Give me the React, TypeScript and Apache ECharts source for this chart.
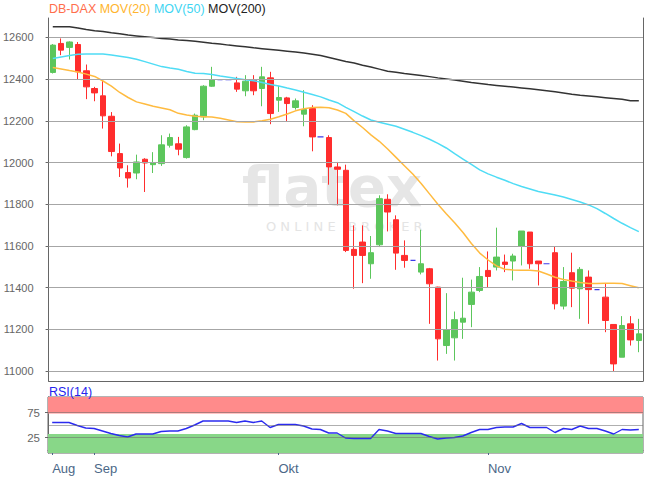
import React, { useEffect, useRef } from "react";
import * as echarts from "echarts";

const FONT = "'Liberation Sans', Arial, Helvetica, sans-serif";

// x-axis month ticks (index of first trading day shown in that month)
const monthTickIndex = [0, 5, 27, 52];
const monthTickLabels = ["Aug", "Sep", "Okt", "Nov"];

// y-axis ticks
const priceTicks = [11000, 11200, 11400, 11600, 11800, 12000, 12200, 12400, 12600];
const rsiTicks = [25, 75];
const rsiGuides = [25, 50, 75];

// DB-DAX daily candles
const open = [
  12432, 12571, 12552, 12566, 12440, 12355, 12320, 12222, 12043, 11952,
  11950, 12016, 11990, 11995, 12083, 12090, 12024, 12158, 12219, 12366,
  12398, 12398, 12382, 12344, 12395, 12355, 12406, 12299, 12310, 12264,
  12232, 12259, 12123, 12120, 11979, 11963, 11584, 11619, 11515, 11606,
  11824, 11726, 11555, 11531, 11475, 11491, 11403, 11123, 11160, 11235,
  11320, 11387, 11483, 11499, 11523, 11528, 11598, 11667, 11528, 11515,
  11568, 11312, 11472, 11395, 11451, 11391, 11355, 11224, 11067, 11227,
  11147,
];
const close = [
  12563, 12539, 12578, 12435, 12363, 12334, 12224, 12053, 11974, 11926,
  12003, 11998, 11998, 12085, 12120, 12064, 12171, 12227, 12366, 12398,
  12398, 12398, 12352, 12390, 12344, 12411, 12235, 12312, 12283, 12296,
  12254, 12123, 12123, 11979, 11968, 11579, 11555, 11555, 11568, 11827,
  11763, 11566, 11531, 11531, 11515, 11419, 11155, 11198, 11247, 11254,
  11379, 11454, 11454, 11547, 11512, 11552, 11672, 11515, 11515, 11515,
  11323, 11430, 11398, 11488, 11391, 11391, 11243, 11035, 11219, 11150,
  11179,
];
const low = [
  12427, 12515, 12494, 12398, 12304, 12294, 12163, 12030, 11931, 11880,
  11920, 11859, 11950, 11984, 12072, 12035, 12019, 12155, 12203, 12363,
  12398, 12398, 12339, 12318, 12323, 12270, 12184, 12243, 12198, 12254,
  12174, 12054, 12123, 11894, 11795, 11571, 11395, 11422, 11443, 11595,
  11670, 11486, 11496, 11531, 11464, 11227, 11051, 11083, 11051, 11155,
  11211, 11379, 11403, 11483, 11475, 11435, 11507, 11491, 11411, 11515,
  11296, 11296, 11307, 11251, 11227, 11391, 11187, 11000, 11067, 11123,
  11091,
];
const high = [
  12568, 12595, 12581, 12578, 12470, 12363, 12398, 12242, 12091, 11987,
  12038, 12021, 12050, 12131, 12139, 12123, 12179, 12235, 12371, 12459,
  12398, 12398, 12411, 12419, 12419, 12459, 12435, 12368, 12315, 12307,
  12347, 12275, 12123, 12131, 12003, 11990, 11699, 11699, 11648, 11843,
  11848, 11747, 11627, 11531, 11678, 11495, 11405, 11374, 11286, 11448,
  11439, 11499, 11574, 11688, 11559, 11563, 11672, 11667, 11528, 11515,
  11600, 11499, 11568, 11499, 11483, 11391, 11419, 11224, 11264, 11264,
  11251,
];

// moving averages
const mov20 = [
  12456, 12449, 12441, 12434, 12424, 12413, 12391, 12366, 12336, 12312,
  12291, 12281, 12270, 12262, 12253, 12236, 12228, 12222, 12220, 12218,
  12212, 12204, 12196, 12195, 12195, 12200, 12208, 12220, 12233, 12248,
  12258, 12264, 12265, 12263, 12252, 12236, 12200, 12168, 12133, 12102,
  12065, 12025, 11985, 11945, 11900, 11850, 11800, 11755, 11712, 11665,
  11612, 11566, 11533, 11505, 11489, 11485, 11484, 11484, 11480, 11466,
  11450, 11440, 11432, 11425, 11420, 11420, 11422, 11422, 11420, 11410,
  11400,
];
const mov50 = [
  12499, 12506, 12513, 12519, 12520, 12520, 12520, 12516, 12510, 12504,
  12495, 12484, 12472, 12460, 12453, 12447, 12437, 12428, 12427, 12422,
  12415, 12409, 12403, 12397, 12392, 12384, 12374, 12367, 12357, 12348,
  12337, 12326, 12315, 12300, 12287, 12265, 12244, 12223, 12204, 12193,
  12184, 12174, 12160, 12145, 12129, 12112, 12092, 12070, 12043, 12017,
  11991, 11965, 11946, 11930, 11915, 11899, 11885, 11873, 11861, 11853,
  11845, 11835, 11823, 11811, 11797, 11779, 11756, 11732, 11709, 11688,
  11669,
];
const mov200 = [
  12651, 12651, 12651, 12645, 12638, 12632, 12628, 12622, 12617, 12611,
  12607, 12603, 12599, 12595, 12592, 12588, 12585, 12581, 12577, 12572,
  12568, 12563, 12559, 12555, 12550, 12546, 12542, 12538, 12534, 12530,
  12525, 12519, 12513, 12504, 12494, 12484, 12477, 12467, 12458, 12448,
  12438, 12433, 12427, 12422, 12417, 12412, 12406, 12401, 12396, 12390,
  12384, 12379, 12374, 12370, 12366, 12362, 12358, 12354, 12349, 12344,
  12339, 12334, 12328, 12323, 12319, 12315, 12311, 12307, 12303, 12296,
  12296,
];

// RSI(14)
const rsi14 = [
  55, 55, 55, 49, 44, 43, 38, 33, 29, 26,
  32, 32, 32, 37, 38, 38, 43, 50, 58, 58,
  58, 58, 55, 58, 55, 58, 45, 51, 51, 51,
  48, 42, 41, 34, 34, 24, 23, 23, 23, 41,
  38, 33, 33, 33, 33, 27, 22, 24, 25, 28,
  35, 41, 41, 45, 46, 46, 53, 45, 45, 45,
  35, 43, 41, 48, 43, 43, 38, 32, 41, 40,
  41,
];

const tradingDays = open.map((_, i) => String(i + 1));

const UP = "#5cc65c";
const DOWN = "#ff2d2d";
const FLAT = "#3b3bea";
const AXIS = "#666666";
const XLAB = "#4b6787";

function buildOption() {
  const candleData = tradingDays.map((_, i) => {
    const v = [open[i], close[i], low[i], high[i]];
    const flat = open[i] === close[i] && low[i] === high[i];
    if (flat) {
      return {
        value: v,
        itemStyle: {
          color: FLAT,
          color0: FLAT,
          borderColor: FLAT,
          borderColor0: FLAT,
          borderColorDoji: FLAT,
          borderWidth: 1.2,
        },
      };
    }
    return v;
  });

  const isMonthTick = (idx: number) => monthTickIndex.indexOf(idx) >= 0;

  return {
    animation: false,
    backgroundColor: "#ffffff",
    textStyle: { fontFamily: FONT },
    grid: [
      { left: 48, right: 2, top: 18, bottom: 97 },
      {
        left: 48,
        right: 2,
        top: 397,
        height: 56,
        show: true,
        borderColor: AXIS,
        borderWidth: 1,
        backgroundColor: "transparent",
      },
    ],
    xAxis: [
      {
        type: "category",
        gridIndex: 0,
        data: tradingDays,
        boundaryGap: true,
        axisLine: { show: true, lineStyle: { color: AXIS } },
        axisTick: { show: false },
        axisLabel: { show: false },
        splitLine: { show: false },
      },
      {
        type: "category",
        gridIndex: 1,
        data: tradingDays,
        boundaryGap: true,
        axisLine: { show: true, lineStyle: { color: AXIS } },
        axisTick: {
          show: true,
          alignWithLabel: true,
          length: 5,
          interval: (idx: number) => isMonthTick(idx),
          lineStyle: { color: XLAB },
        },
        axisLabel: {
          show: true,
          interval: (idx: number) => isMonthTick(idx),
          formatter: (_v: string, idx: number) => {
            const k = monthTickIndex.indexOf(idx);
            return k >= 0 ? monthTickLabels[k] : "";
          },
          align: "left",
          color: XLAB,
          fontSize: 13,
          margin: 9,
          fontFamily: FONT,
        },
        splitLine: { show: false },
      },
    ],
    yAxis: [
      {
        type: "value",
        gridIndex: 0,
        min: 10953,
        max: 12693,
        position: "left",
        axisLine: { show: true, lineStyle: { color: AXIS } },
        axisTick: {
          show: true,
          length: 3,
          customValues: priceTicks,
          lineStyle: { color: AXIS },
        },
        axisLabel: {
          show: true,
          customValues: priceTicks,
          formatter: (v: number) => String(v),
          color: "#666",
          fontSize: 11,
          margin: 15,
          fontFamily: FONT,
        },
        splitLine: { show: false },
      },
      {
        type: "value",
        gridIndex: 0,
        min: 10953,
        max: 12693,
        position: "right",
        axisLine: { show: true, lineStyle: { color: AXIS } },
        axisTick: { show: false },
        axisLabel: { show: false },
        splitLine: { show: false },
      },
      {
        type: "value",
        gridIndex: 1,
        min: -6,
        max: 106,
        axisLine: { show: true, lineStyle: { color: AXIS } },
        axisTick: {
          show: true,
          length: 3,
          customValues: rsiTicks,
          lineStyle: { color: AXIS },
        },
        axisLabel: {
          show: true,
          customValues: rsiTicks,
          formatter: (v: number) => String(v),
          color: "#666",
          fontSize: 11.5,
          margin: 8,
          fontFamily: FONT,
        },
        splitLine: { show: false },
      },
    ],
    graphic: [
      {
        type: "text",
        x: 242,
        y: 186,
        z: 0,
        silent: true,
        style: {
          text: "flatex",
          fill: "#e6e6e6",
          font: "bold 56px 'DejaVu Sans', sans-serif",
          verticalAlign: "middle",
        },
      },
      {
        type: "text",
        x: 266,
        y: 226,
        z: 0,
        silent: true,
        style: {
          text: "O N L I N E   B R O K E R",
          fill: "#e4e4e4",
          font: "13px 'DejaVu Sans', sans-serif",
          verticalAlign: "middle",
        },
      },
      {
        type: "text",
        x: 49,
        y: 8.5,
        z: 10,
        style: {
          text: "{a|DB-DAX} {b|MOV(20)} {c|MOV(50)} {d|MOV(200)}",
          font: `12.5px ${FONT}`,
          verticalAlign: "middle",
          rich: {
            a: { fill: "#ff6e4c", fontSize: 12.5, fontFamily: FONT },
            b: { fill: "#ffb52e", fontSize: 12.5, fontFamily: FONT },
            c: { fill: "#3fd5f2", fontSize: 12.5, fontFamily: FONT },
            d: { fill: "#222222", fontSize: 12.5, fontFamily: FONT },
          },
        },
      },
      {
        type: "text",
        x: 49,
        y: 391.5,
        z: 10,
        style: {
          text: "RSI(14)",
          fill: "#2424ee",
          font: `12.5px ${FONT}`,
          verticalAlign: "middle",
        },
      },
    ],
    series: [
      {
        name: "grid",
        type: "line",
        xAxisIndex: 0,
        yAxisIndex: 0,
        data: [],
        z: 1,
        silent: true,
        markLine: {
          silent: true,
          symbol: ["none", "none"],
          label: { show: false },
          lineStyle: { color: "#a6a6a6", width: 1.2, type: "solid" },
          data: priceTicks.map((v) => ({ yAxis: v })),
        },
      },
      {
        name: "DB-DAX",
        type: "candlestick",
        xAxisIndex: 0,
        yAxisIndex: 0,
        data: candleData,
        barWidth: 6,
        z: 3,
        itemStyle: {
          color: UP,
          color0: DOWN,
          borderColor: UP,
          borderColor0: DOWN,
          borderWidth: 1,
        },
      },
      {
        name: "MOV(20)",
        type: "line",
        xAxisIndex: 0,
        yAxisIndex: 0,
        data: mov20,
        symbol: "none",
        z: 4,
        lineStyle: { color: "#ffbb40", width: 1.5 },
      },
      {
        name: "MOV(50)",
        type: "line",
        xAxisIndex: 0,
        yAxisIndex: 0,
        data: mov50,
        symbol: "none",
        z: 4,
        lineStyle: { color: "#4fdcf5", width: 1.5 },
      },
      {
        name: "MOV(200)",
        type: "line",
        xAxisIndex: 0,
        yAxisIndex: 0,
        data: mov200,
        symbol: "none",
        z: 4,
        lineStyle: { color: "#333333", width: 1.5 },
      },
      {
        name: "bands",
        type: "line",
        xAxisIndex: 1,
        yAxisIndex: 2,
        data: [],
        z: 1,
        silent: true,
        markArea: {
          silent: true,
          data: [
            [{ yAxis: 73, itemStyle: { color: "#ff8b8b" } }, { yAxis: 106 }],
            [{ yAxis: -6, itemStyle: { color: "#88d788" } }, { yAxis: 32 }],
          ],
        },
      },
      {
        name: "rsiGuides",
        type: "line",
        xAxisIndex: 1,
        yAxisIndex: 2,
        data: [],
        z: 2,
        silent: true,
        markLine: {
          silent: true,
          symbol: ["none", "none"],
          label: { show: false },
          lineStyle: { color: "rgba(110,110,110,0.55)", width: 1.2, type: "solid" },
          data: rsiGuides.map((v) => ({ yAxis: v })),
        },
      },
      {
        name: "RSI(14)",
        type: "line",
        xAxisIndex: 1,
        yAxisIndex: 2,
        data: rsi14,
        symbol: "none",
        z: 3,
        lineStyle: { color: "#2b2bef", width: 1.4 },
      },
    ],
  };
}

export default function App() {
  const ref = useRef<HTMLDivElement>(null);
  useEffect(() => {
    if (!ref.current) return;
    const chart = echarts.init(ref.current, null, { renderer: "svg" });
    chart.setOption(buildOption() as any);
    return () => chart.dispose();
  }, []);
  return (
    <div
      ref={ref}
      style={{ position: "fixed", left: 0, top: 0, width: 645, height: 478 }}
    />
  );
}
